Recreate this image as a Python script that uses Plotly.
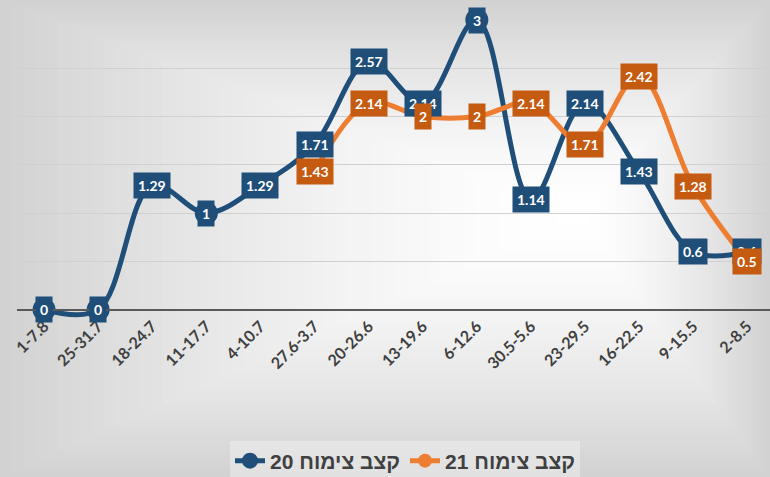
import plotly.graph_objects as go

categories = ["1-7.8", "25-31.7", "18-24.7", "11-17.7", "4-10.7", "27.6-3.7", "20-26.6",
              "13-19.6", "6-12.6", "30.5-5.6", "23-29.5", "16-22.5", "9-15.5", "2-8.5"]
series20 = [0, 0, 1.29, 1, 1.29, 1.71, 2.57, 2.14, 3, 1.14, 2.14, 1.43, 0.6, 0.6]
series21 = [None, None, None, None, None, 1.43, 2.14, 2, 2, 2.14, 1.71, 2.42, 1.28, 0.5]
name20 = "קצב צימוח 20"
name21 = "קצב צימוח 21"

W, H = 770, 477
ML, MR, MT, MB = 17, 0, 19.5, 119
PW, PH = W - ML - MR, H - MT - MB

BLUE = "#1F4E79"
ORANGE_LINE = "#ED7D31"
ORANGE_BOX = "#C55A11"
FONT = "Lato"

xs = list(range(len(categories)))

fig = go.Figure()
fig.add_trace(go.Scatter(
    x=xs, y=series20, name=f"<b>{name20}</b>", mode="lines+markers", cliponaxis=False,
    line=dict(color=BLUE, width=5, shape="spline", smoothing=1),
    marker=dict(size=23, color=BLUE, line=dict(color=BLUE, width=0)),
))
fig.add_trace(go.Scatter(
    x=xs, y=series21, name=f"<b>{name21}</b>", mode="lines+markers", cliponaxis=False,
    line=dict(color=ORANGE_LINE, width=5, shape="spline", smoothing=1),
    marker=dict(size=14, color=ORANGE_LINE),
))

annotations = []
for vals, col in ((series20, BLUE), (series21, ORANGE_BOX)):
    for i, v in zip(xs, vals):
        if v is None:
            continue
        annotations.append(dict(
            x=i, y=v, xref="x", yref="y", text=f"<b>{v:g}</b>", showarrow=False,
            font=dict(family=FONT, size=14, color="white"),
            bgcolor=col, borderpad=4, xanchor="center", yanchor="middle",
        ))

# rectangular "from center" gradient background
def px2paper(px, py):
    return (px - ML) / PW, (MT + PH - py) / PH

cx, cy = 580, 215
shapes = []
N = 50
for k in range(N, 0, -1):
    t = k / N
    g = round(255 - (255 - 210) * t ** 1.5)
    x0, y0 = px2paper(cx - t * cx, cy + t * (H - cy))
    x1, y1 = px2paper(cx + t * (W - cx), cy - t * cy)
    shapes.append(dict(type="rect", xref="paper", yref="paper", x0=x0, x1=x1, y0=y0, y1=y1,
                       fillcolor=f"rgb({g},{g},{g})", line=dict(width=0), layer="below"))

fig.update_layout(
    width=W, height=H,
    margin=dict(l=ML, r=MR, t=MT, b=MB, autoexpand=False),
    paper_bgcolor="#d2d2d2", plot_bgcolor="rgba(0,0,0,0)",
    shapes=shapes, annotations=annotations,
    font=dict(family=FONT, color="#404040"),
    showlegend=True,
    legend=dict(orientation="h", xref="container", x=405 / W, xanchor="center",
                yref="container", y=1 - 461 / H, yanchor="middle",
                font=dict(family="Liberation Sans, Arial", size=21, color="#404040"),
                bgcolor="rgba(245,245,245,0.45)", itemwidth=30),
    xaxis=dict(range=[-0.5, 13.42], tickmode="array", tickvals=xs,
               ticktext=[f"<b>{c}</b>" for c in categories], automargin=False,
               tickangle=-45, tickfont=dict(family=FONT, size=16, color="#404040"),
               showgrid=False, zeroline=False, showline=True, linecolor="#595959", linewidth=2,
               anchor="free", position=0.5 / 3.5, ticks=""),
    yaxis=dict(range=[-0.5, 3], dtick=0.5, tick0=0, showticklabels=False, automargin=False,
               showgrid=True, gridcolor="#d0d0d0", gridwidth=1, zeroline=False),
)

fig.write_html("out.html", config={"displayModeBar": False},
               post_script="document.body.style.margin='0';")
